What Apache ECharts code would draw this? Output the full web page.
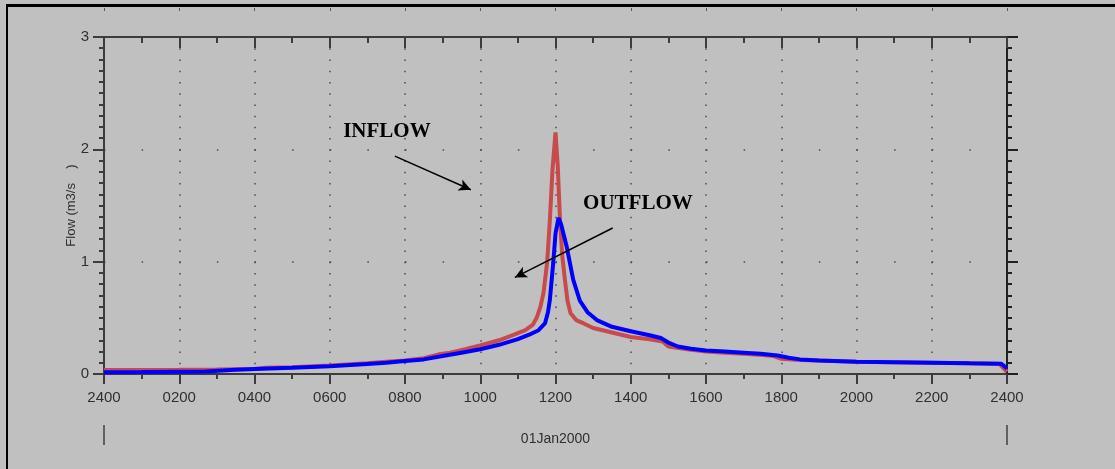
<!DOCTYPE html>
<html>
<head>
<meta charset="utf-8">
<title>Flow</title>
<script src="https://cdn.jsdelivr.net/npm/echarts@6/dist/echarts.min.js"></script>
<style>
    html, body {margin: 0; padding: 0; background: #c0c0c0;}
    #flowChart {width: 1115px; height: 469px;}
</style>
</head>
<body>
<div id="flowChart"></div>
<script>
// hours after midnight
var inflowHours = [0, 1, 2, 3, 4, 4.3, 5, 6, 7, 7.5, 8, 8.5, 8.9, 9.2, 9.6, 10, 10.5, 10.9, 11.2, 11.4, 11.5, 11.6, 11.68, 11.78, 11.85, 11.92, 12.0,
    12.06, 12.12, 12.18, 12.25, 12.32, 12.4, 12.55, 12.75, 13.0, 13.5, 14.0, 14.5, 14.85, 15.0, 15.5, 16.0, 16.5, 17.0, 17.5, 17.8, 18.0,
    18.5, 19.0, 20.0, 21.0, 22.0, 23.0, 23.8, 24.0];
var inflowValues = [0.035, 0.035, 0.037, 0.04, 0.045, 0.055, 0.06, 0.075, 0.095, 0.11, 0.12, 0.14, 0.175, 0.19, 0.22, 0.255, 0.3, 0.35, 0.39, 0.44, 0.5, 0.6, 0.72, 1.0, 1.37, 1.82, 2.15,
    1.85, 1.37, 1.05, 0.84, 0.65, 0.54, 0.48, 0.45, 0.41, 0.37, 0.33, 0.31, 0.29, 0.245, 0.22, 0.2, 0.19, 0.18, 0.17, 0.16, 0.135,
    0.125, 0.12, 0.11, 0.105, 0.1, 0.095, 0.09, 0.02];

var outflowHours = [0, 1, 2, 2.7, 2.75, 3.5, 4, 5, 6, 7, 7.5, 8, 8.5, 9, 9.5, 10, 10.5, 11, 11.3, 11.55, 11.72, 11.8, 11.85, 11.94, 12.0, 12.08,
    12.15, 12.3, 12.47, 12.65, 12.85, 13.1, 13.5, 14.0, 14.5, 14.8, 15.0, 15.25, 15.6, 16.0, 16.5, 17.0, 17.45, 17.9, 18.2, 18.5,
    19.0, 20.0, 21.0, 22.0, 23.0, 23.85, 24.0];
var outflowValues = [0.015, 0.017, 0.02, 0.022, 0.032, 0.037, 0.045, 0.055, 0.07, 0.09, 0.1, 0.115, 0.13, 0.16, 0.19, 0.22, 0.26, 0.31, 0.35, 0.39, 0.45, 0.55, 0.66, 0.99, 1.25, 1.39,
    1.33, 1.13, 0.84, 0.65, 0.55, 0.48, 0.42, 0.38, 0.345, 0.32, 0.28, 0.245, 0.225, 0.21, 0.2, 0.19, 0.18, 0.165, 0.145, 0.13,
    0.12, 0.11, 0.105, 0.1, 0.095, 0.092, 0.05];

var xTicks = [0, 2, 4, 6, 8, 10, 12, 14, 16, 18, 20, 22, 24];
var xTickLabels = ['2400', '0200', '0400', '0600', '0800', '1000', '1200', '1400', '1600', '1800', '2000', '2200', '2400'];
var yTicks = [0, 1, 2, 3];

function pairs(xs, ys) {
    var out = [];
    for (var i = 0; i < xs.length; i++) {
        out.push([xs[i], ys[i]]);
    }
    return out;
}

function hourLabel(v) {
    var i = xTicks.indexOf(v);
    return i == -1 ? '' : xTickLabels[i];
}

var axisGray = '#3c3c3c';
var dotGray = '#4a4a4a';

var flowChart = echarts.init(document.getElementById('flowChart'));
var option = {
    backgroundColor: '#c0c0c0',
    animation: false,
    grid: {left: 104, top: 37, right: 108, bottom: 95},
    graphic: [
        // window frame, top and left edges
        {type: 'line', shape: {x1: 6, y1: 5.5, x2: 1115, y2: 5.5}, style: {stroke: '#000', lineWidth: 3}},
        {type: 'line', shape: {x1: 7, y1: 4, x2: 7, y2: 469}, style: {stroke: '#000', lineWidth: 2}}
    ],
    xAxis: [{
        type: 'value',
        min: 0,
        max: 24,
        interval: 2,
        position: 'bottom',
        name: '01Jan2000',
        nameLocation: 'middle',
        nameGap: 58,
        nameMoveOverlap: false,
        nameTextStyle: {fontFamily: 'Liberation Sans', fontSize: 14, color: '#303030'},
        axisLine: {onZero: false, lineStyle: {color: axisGray, width: 2}},
        axisTick: {length: 10, lineStyle: {color: axisGray, width: 2}},
        minorTick: {show: true, splitNumber: 2, length: 5, lineStyle: {color: axisGray, width: 2}},
        axisLabel: {formatter: hourLabel, margin: 16, fontFamily: 'Liberation Sans', fontSize: 15, color: '#303030'},
        splitLine: {show: true, lineStyle: {color: dotGray, width: 1.5, type: [1.5, 9.733]}}
    }, {
        type: 'value',
        min: 0,
        max: 24,
        interval: 2,
        position: 'top',
        axisLine: {onZero: false, lineStyle: {color: axisGray, width: 2}},
        axisTick: {inside: true, length: 11, lineStyle: {color: axisGray, width: 2}},
        minorTick: {show: true, splitNumber: 2, length: 6, lineStyle: {color: axisGray, width: 2}},
        axisLabel: {show: false},
        splitLine: {show: false}
    }, {
        // small marks under the frame edge
        type: 'value',
        min: 0,
        max: 24,
        interval: 2,
        position: 'top',
        offset: 29,
        axisLine: {show: false, onZero: false},
        axisTick: {inside: true, length: 3, lineStyle: {color: '#555', width: 1}},
        axisLabel: {show: false},
        splitLine: {show: false}
    }, {
        // start / end bars under the date
        type: 'value',
        min: 0,
        max: 24,
        interval: 24,
        position: 'bottom',
        offset: 51,
        axisLine: {show: false, onZero: false},
        axisTick: {length: 20, lineStyle: {color: '#404040', width: 1.5}},
        axisLabel: {show: false},
        splitLine: {show: false}
    }],
    yAxis: [{
        type: 'value',
        min: 0,
        max: 3,
        interval: 1,
        position: 'left',
        name: 'Flow (m3/s    )',
        nameLocation: 'middle',
        nameGap: 26,
        nameMoveOverlap: false,
        nameTextStyle: {fontFamily: 'Liberation Sans', fontSize: 13, color: '#303030'},
        axisLine: {onZero: false, lineStyle: {color: axisGray, width: 2}},
        axisTick: {length: 11, lineStyle: {color: axisGray, width: 2}},
        minorTick: {show: true, splitNumber: 10, length: 5, lineStyle: {color: axisGray, width: 2}},
        axisLabel: {margin: 15, fontFamily: 'Liberation Sans', fontSize: 15, color: '#303030'},
        splitLine: {show: true, lineStyle: {color: dotGray, width: 1.5, type: [1.5, 36.125]}}
    }, {
        type: 'value',
        min: 0,
        max: 3,
        interval: 1,
        position: 'right',
        axisLine: {onZero: false, lineStyle: {color: '#202020', width: 2}},
        axisTick: {length: 11, lineStyle: {color: '#202020', width: 2}},
        minorTick: {show: true, splitNumber: 10, length: 5, lineStyle: {color: '#202020', width: 2}},
        axisLabel: {show: false},
        splitLine: {show: false}
    }],
    series: [{
        name: 'INFLOW',
        type: 'line',
        showSymbol: false,
        color: '#c84a4a',
        lineStyle: {width: 4},
        data: pairs(inflowHours, inflowValues),
        markLine: {
            silent: true,
            symbol: ['none', 'arrow'],
            symbolSize: [9, 12],
            lineStyle: {color: '#000', width: 1.5, type: 'solid'},
            label: {show: false},
            data: [
                [{coord: [7.73, 1.94]}, {coord: [9.75, 1.64]}],
                [{coord: [13.52, 1.30]}, {coord: [10.92, 0.86]}]
            ]
        },
        markPoint: {
            silent: true,
            symbol: 'circle',
            symbolSize: 0,
            label: {show: true, position: 'inside', fontFamily: 'Liberation Serif', fontWeight: 'bold', fontSize: 21, color: '#000'},
            data: [
                {coord: [7.52, 2.155], label: {formatter: 'INFLOW'}},
                {coord: [14.19, 1.513], label: {formatter: 'OUTFLOW'}}
            ]
        }
    }, {
        name: 'OUTFLOW',
        type: 'line',
        showSymbol: false,
        color: '#0000ff',
        lineStyle: {width: 4},
        data: pairs(outflowHours, outflowValues)
    }]
};
flowChart.setOption(option, true);
</script>
</body>
</html>
